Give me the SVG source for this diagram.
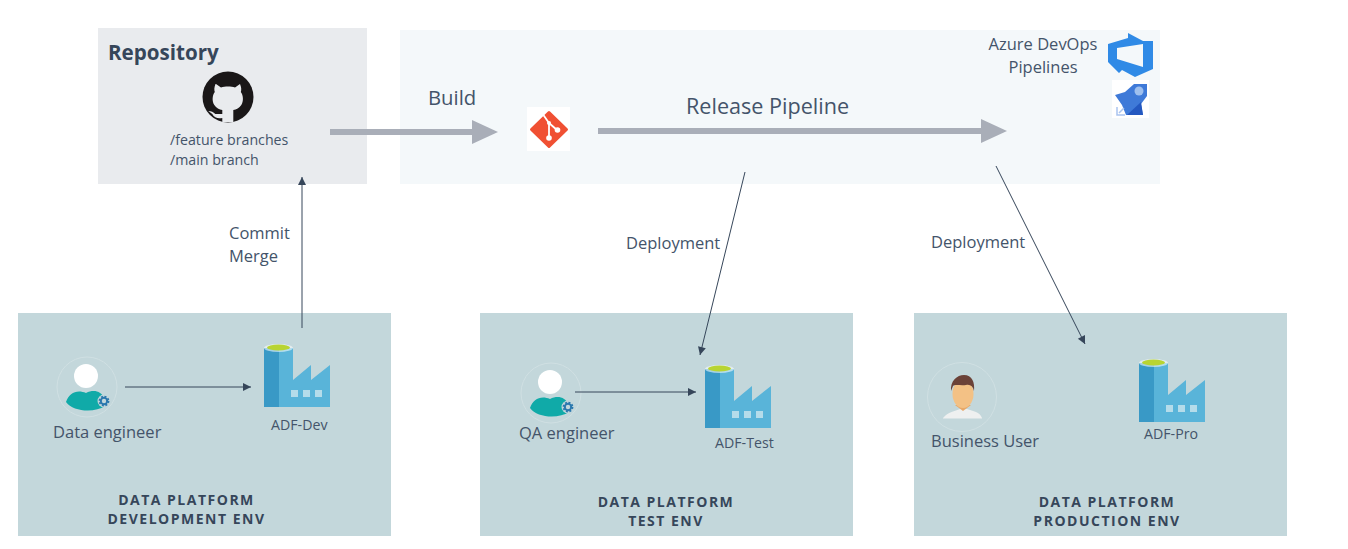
<svg xmlns="http://www.w3.org/2000/svg" width="1348" height="549" viewBox="0 0 1348 549">
<style>
text{font-family:"Open Sans","Noto Sans","Liberation Sans",sans-serif;fill:#44546a}
.env{fill:#c3d7db}
.lbl{font-size:16.500px}
.small{font-size:14.200px}
.head{font-size:14px;font-weight:700;letter-spacing:1.500px;text-anchor:middle;fill:#36465a}
.big{font-size:20.300px}
.thick{stroke:#a9aeb8;stroke-width:6;fill:none}
.thin{stroke:#36465a;stroke-width:1;fill:none}
</style>
<defs>
<marker id="ah" markerUnits="userSpaceOnUse" markerWidth="10" markerHeight="10" refX="9" refY="5" orient="auto"><path d="M1 1L9 5L1 9Z" fill="#36465a"/></marker>
<marker id="big" markerUnits="userSpaceOnUse" markerWidth="28" markerHeight="26" refX="2" refY="13" orient="auto"><path d="M1 1L27 13L1 25Z" fill="#a9aeb8"/></marker>
<g id="adf">
<path d="M0 3H29V35L47 20V35L66 20V62H0Z" fill="#59b4d9"/>
<path d="M0 3H15V62H0Z" fill="#3999c6"/>
<ellipse cx="14.500" cy="3" rx="14.500" ry="4" fill="#fff" opacity=".55"/>
<ellipse cx="14.500" cy="2.500" rx="11.500" ry="3" fill="#b8d432"/>
<path d="M27 45h7v7h-7zM39 45h7v7h-7zM51 45h7v7h-7z" fill="#b5dcea"/>
</g>
<g id="eng">
<circle cx="0" cy="0" r="30" fill="none" stroke="#d0e0e3" stroke-width="1"/>
<path d="M-21 15C-18 6-10 2-1 6C7 2 14 4 18 12V19C8 26-14 25-21 15Z" fill="#10aaa8"/>
<circle cx="-1" cy="-11" r="12" fill="#fff"/>
<circle cx="17" cy="14" r="6.500" fill="#c3d7db"/>
<circle cx="17" cy="14" r="3.200" fill="none" stroke="#2b78ae" stroke-width="2"/>
<circle cx="17" cy="14" r="4.600" fill="none" stroke="#2b78ae" stroke-width="1.600" stroke-dasharray="2 1.600"/>
</g>
</defs>

<g id="repository">
<rect x="98" y="28" width="269" height="156" fill="#e9ebee"/>
<text x="108" y="60" font-size="20.600" font-weight="700" style="fill:#36465a">Repository</text>
<circle cx="228" cy="97" r="25.500" fill="#1a1718"/>
<path d="M216 84l5 3.500c4-1.200 10-1.200 14 0l5-3.500c1.500 3.500 1.500 6 .8 8c2.500 3 3 9 .5 13c-2 3-5 4.500-8 5v12h-11v-4c-4 1-8 0-10-4l-4-3c3 0 5 1 7 3h7v-4c-3-.5-6-2-8-5c-2.500-4-2-10 .5-13c-.7-2-.7-4.500 .7-8Z" fill="#e9ebee"/>
<text x="170" y="145" class="small">/feature branches</text>
<text x="170" y="165" class="small">/main branch</text>
</g>

<g id="pipeline">
<rect x="400" y="30" width="760" height="154" fill="#f4f8fa"/>
<text x="428" y="105" class="big">Build</text>
<text x="686" y="114" font-size="21.600">Release Pipeline</text>
<text x="1043" y="50" class="lbl" text-anchor="middle">Azure DevOps</text>
<text x="1043" y="73" class="lbl" text-anchor="middle">Pipelines</text>
</g>

<g id="git-icon">
<rect x="527" y="107" width="43" height="44" fill="#fff"/>
<path d="M549 112.500L566.500 129.500L549 146.500L531.500 129.500Z" fill="#f05033" stroke="#f05033" stroke-width="3" stroke-linejoin="round"/>
<path d="M542 113L549 123L549 138M549 123L557 130" stroke="#fff" stroke-width="1.800" fill="none"/>
<circle cx="549" cy="138" r="2.800" fill="#fff"/><circle cx="557.500" cy="130" r="2.800" fill="#fff"/><circle cx="549" cy="123" r="2" fill="#fff"/>
</g>

<g id="devops-icon">
<path fill-rule="evenodd" d="M1128 33L1143 41H1153V69L1135 77L1122 70L1119 73L1108 62V44L1128 38ZM1117 48L1143 44V67L1117 59Z" fill="#2f8ae6"/>
<rect x="1112" y="80" width="37" height="38" fill="#fff"/>
<path d="M1115 95L1125 92L1134 84L1147 84V96L1141 104L1143 115H1126L1122 105Z" fill="#3f7ad8"/>
<circle cx="1139" cy="91" r="4.500" fill="#9fc0ee"/>
<path d="M1127 115L1141 102L1143 115Z" fill="#2458c0"/>
<path d="M1117 107V115H1125M1119 113L1124 108" stroke="#a9c4ef" stroke-width="1.500" fill="none"/>
</g>

<g id="env-dev">
<rect class="env" x="18" y="313" width="373" height="223"/>
<use href="#eng" x="87" y="387"/>
<text x="53" y="438" class="lbl">Data engineer</text>
<use href="#adf" x="264" y="345"/>
<text x="271" y="430" class="small">ADF-Dev</text>
<text x="186.500" y="505" class="head">DATA PLATFORM</text>
<text x="186.500" y="524" class="head">DEVELOPMENT ENV</text>
</g>

<g id="env-test">
<rect class="env" x="480" y="313" width="373" height="223"/>
<use href="#eng" x="551" y="393"/>
<text x="519" y="439" class="lbl">QA engineer</text>
<use href="#adf" x="705" y="366"/>
<text x="715" y="448" class="small">ADF-Test</text>
<text x="666" y="507" class="head">DATA PLATFORM</text>
<text x="666" y="526" class="head">TEST ENV</text>
</g>

<g id="env-prod">
<rect class="env" x="914" y="313" width="373" height="223"/>
<circle cx="962" cy="397" r="34.500" fill="none" stroke="#d0e0e3"/>
<path d="M943 418C948 412 955 411 960 409H967C973 411 980 412 982 418V418.500H943Z" fill="#eef0f0"/>
<path d="M955 405H971L963 411Z" fill="#e8a868"/>
<ellipse cx="963" cy="394" rx="10.500" ry="14" fill="#f3c185"/>
<path d="M951 391C950 381 957 375 964 375C972 375 975 382 974 391C973 386 970 384 966 385C961 386 955 384 953 386Z" fill="#6b4238"/>
<text x="931" y="447" class="lbl">Business User</text>
<use href="#adf" x="1139" y="360"/>
<text x="1144" y="439" class="small">ADF-Pro</text>
<text x="1107" y="507" class="head">DATA PLATFORM</text>
<text x="1107" y="526" class="head">PRODUCTION ENV</text>
</g>

<g id="connectors">
<path class="thick" d="M330 132H473" marker-end="url(#big)"/>
<path class="thick" d="M598 131H982" marker-end="url(#big)"/>
<path class="thin" d="M302 328V177" marker-end="url(#ah)"/>
<path class="thin" d="M125 387H251" marker-end="url(#ah)"/>
<path class="thin" d="M575 392H696" marker-end="url(#ah)"/>
<path class="thin" d="M745 172L700 355" marker-end="url(#ah)"/>
<path class="thin" d="M996 166L1085 344" marker-end="url(#ah)"/>
</g>

<g id="connector-labels">
<text x="229" y="239" class="lbl">Commit</text>
<text x="229" y="262" class="lbl">Merge</text>
<text x="626" y="249" class="lbl">Deployment</text>
<text x="931" y="248" class="lbl">Deployment</text>
</g>
</svg>
